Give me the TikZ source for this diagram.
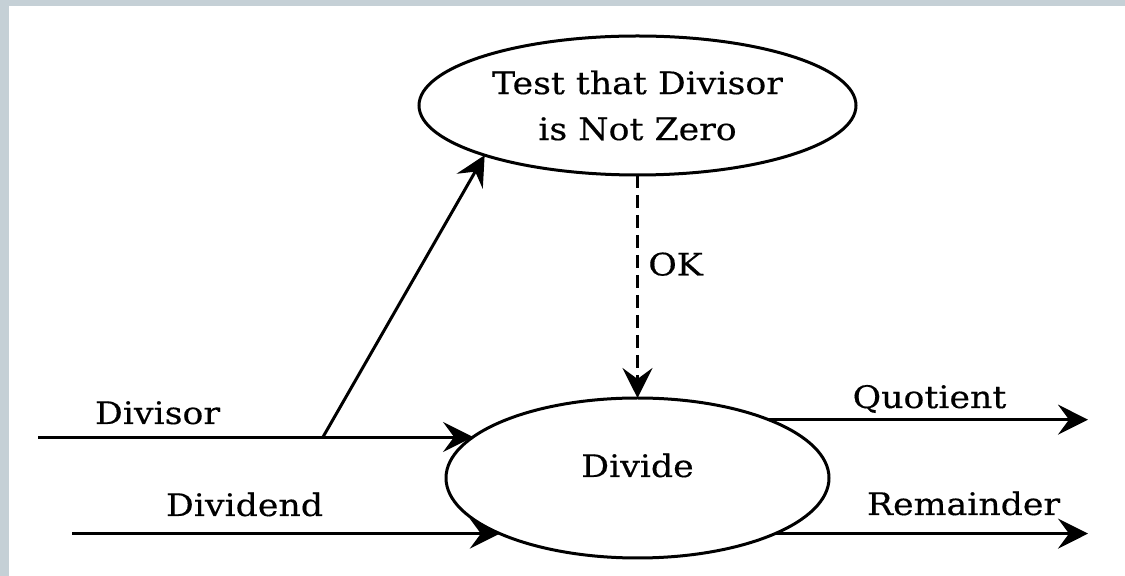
\documentclass[tikz,border=0pt]{standalone}
\usepackage{fontspec}
\setmainfont[FakeStretch=1.12,FakeBold=0.4]{DejaVu Serif}
\usetikzlibrary{arrows.meta,shapes.geometric}
\definecolor{framegray}{RGB}{197,208,214}

\begin{document}
\begin{tikzpicture}[x=0.5pt,y=-0.5pt,line width=1.5pt,
  font=\fontsize{15.5}{23}\selectfont,
  >={Stealth[length=15pt,width=15pt,inset=5.5pt]},
  proc/.style={draw,ellipse,inner sep=0pt,outer sep=0pt,align=center},
  lbl/.style={anchor=base,inner sep=0pt}]
  \useasboundingbox (0,0) rectangle (1125,576);
  \fill[framegray] (0,0) rectangle (1125,576);
  \fill[white] (9,6) rectangle (1125,576);
  % the two processes
  \node[proc,minimum width=218.5pt,minimum height=69.5pt] (T) at (637.5,105.5)
    {Test that Divisor\\is Not Zero};
  \node[proc,minimum width=191.5pt,minimum height=80pt,
    text height=10pt,text depth=11pt] (D) at (637.5,478) {Divide};
  % loose ends of the flows
  \coordinate (I) at (38,0);
  \coordinate (J) at (72,0);
  \coordinate (E) at (1088,0);
  \coordinate (K) at (323,0);
  \coordinate (F) at (D.166 -| K);
  \draw[->] (D.166 -| I) -- (D.166);
  \draw[->] (D.202 -| J) -- (D.202);
  \draw[->] (D.24) -- (D.24 -| E);
  \draw[->] (D.338) -- (D.338 -| E);
  \draw[->] (F) -- (T.198);
  \draw[->,line width=1.2pt,dash pattern=on 6.5pt off 3.5pt] (T.south) -- (D.north)
    node[pos=0.4,right=1.5pt] (ok) {OK};
  % flow labels
  \node[lbl] (dvs) at (157.5,424) {Divisor};
  \node[lbl] (dvd) at (244.5,516) {Dividend};
  \node[lbl] (quo) at (929.5,408) {Quotient};
  \node[lbl] (rem) at (963.5,515) {Remainder};
\end{tikzpicture}
\end{document}
